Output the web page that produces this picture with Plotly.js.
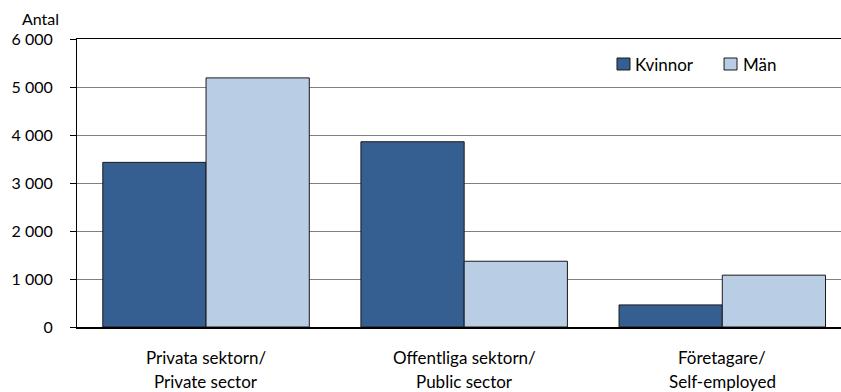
<!DOCTYPE html>
<html>
<head>
<meta charset="utf-8">
<script src="https://cdn.plot.ly/plotly-3.0.1.min.js"></script>
<style>html,body{margin:0;padding:0;background:#fff;}#chart{width:841px;height:392px;}</style>
</head>
<body>
<div id="chart"></div>
<script>
const categoriesSv = ["Privata sektorn/", "Offentliga sektorn/", "Företagare/"];
const categoriesEn = ["Private sector", "Public sector", "Self-employed"];
const seriesNames = ["Kvinnor", "Män"];
const kvinnor = [3430, 3860, 460];
const man = [5190, 1370, 1080];
const yTicks = [0, 1000, 2000, 3000, 4000, 5000, 6000];
const yTickLabels = ["0", "1 000", "2 000", "3 000", "4 000", "5 000", "6 000"];
const colors = ["#365F91", "#B9CDE5"];

const FONT = "Lato, 'Open Sans', sans-serif";
const idx = categoriesSv.map((_, i) => i);

const traces = [
  {type: "bar", name: seriesNames[0], x: idx, y: kvinnor, showlegend: false,
   marker: {color: colors[0], line: {color: "#1a1a1a", width: 1}}},
  {type: "bar", name: seriesNames[1], x: idx, y: man, showlegend: false,
   marker: {color: colors[1], line: {color: "#1a1a1a", width: 1}}}
];

const annotations = [
  {text: "Antal", xref: "paper", yref: "paper", x: -0.022, y: 1.0, xanchor: "right", yanchor: "middle",
   yshift: 21, borderpad: 0, showarrow: false, font: {family: FONT, size: 16, color: "#000"}}
];
idx.forEach(i => {
  annotations.push({text: categoriesSv[i], xref: "x", yref: "paper", x: i, y: 0, xanchor: "center",
    yanchor: "middle", yshift: -30, showarrow: false, font: {family: FONT, size: 17, color: "#000"}});
  annotations.push({text: categoriesEn[i], xref: "x", yref: "paper", x: i, y: 0, xanchor: "center",
    yanchor: "middle", yshift: -54, showarrow: false, font: {family: FONT, size: 17, color: "#000"}});
});

// custom legend (squares + labels)
const legendBox = [[0.7068, 0.7238], [0.8469, 0.8639]];
const legendText = [0.7277, 0.869];
const shapes = [];
seriesNames.forEach((n, k) => {
  shapes.push({type: "rect", xref: "paper", yref: "paper", x0: legendBox[k][0], x1: legendBox[k][1],
    y0: 0.8924, y1: 0.934, fillcolor: colors[k], line: {color: "#1a1a1a", width: 1}});
  annotations.push({text: n, xref: "paper", yref: "paper", x: legendText[k], y: 0.913, xanchor: "left",
    yanchor: "middle", showarrow: false, font: {family: FONT, size: 17, color: "#000"}});
});

const layout = {
  width: 841, height: 392,
  margin: {l: 77, r: 0, t: 39, b: 65},
  paper_bgcolor: "#fff", plot_bgcolor: "#fff",
  font: {family: FONT, size: 16, color: "#000"},
  barmode: "group", bargap: 0.2, bargroupgap: 0,
  showlegend: false,
  xaxis: {range: [-0.5, 2.46], tickvals: idx, ticktext: idx.map(() => ""),
          showline: true, linecolor: "#000", linewidth: 1.5, mirror: true,
          ticks: "", showgrid: false, zeroline: false, fixedrange: true},
  yaxis: {range: [0, 6000], tickvals: yTicks, ticktext: yTickLabels,
          showline: true, linecolor: "#000", linewidth: 1,
          ticks: "outside", ticklen: 6, tickcolor: "#000", tickwidth: 1,
          showgrid: true, gridcolor: "#808080", gridwidth: 1, zeroline: false,
          ticklabelstandoff: 14,
          tickfont: {family: FONT, size: 16, color: "#000"}},
  shapes: shapes,
  annotations: annotations
};

Plotly.newPlot("chart", traces, layout, {displayModeBar: false, staticPlot: true});
</script>
</body>
</html>
